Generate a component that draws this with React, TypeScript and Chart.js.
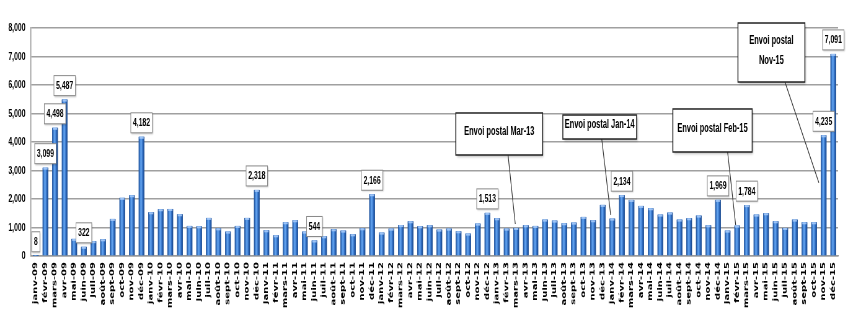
import React, { useEffect, useRef } from 'react';
import { Chart, registerables } from 'chart.js';

Chart.register(...registerables);

// ---- data ----
const MONTHS = ['janv', 'févr', 'mars', 'avr', 'mai', 'juin', 'juil', 'août', 'sept', 'oct', 'nov', 'déc'];
const YEARS = ['09', '10', '11', '12', '13', '14', '15'];
const CATEGORIES = YEARS.flatMap((y) => MONTHS.map((m) => `${m}-${y}`));

const VALUES_2009 = [8, 3099, 4498, 5487, 600, 322, 520, 585, 1300, 2040, 2130, 4182];
const VALUES_2010 = [1534, 1640, 1650, 1464, 1054, 1042, 1335, 970, 855, 1054, 1335, 2318];
const VALUES_2011 = [902, 726, 1183, 1253, 855, 544, 691, 937, 890, 761, 972, 2166];
const VALUES_2012 = [820, 960, 1085, 1218, 1042, 1077, 925, 960, 867, 785, 1136, 1513];
const VALUES_2013 = [1323, 960, 984, 1077, 1054, 1276, 1241, 1148, 1171, 1370, 1253, 1792];
const VALUES_2014 = [1311, 2134, 1967, 1756, 1674, 1452, 1522, 1276, 1323, 1417, 1077, 1969];
const VALUES_2015 = [890, 1066, 1784, 1452, 1499, 1218, 984, 1276, 1183, 1183, 4235, 7091];
const VALUES = [
  ...VALUES_2009, ...VALUES_2010, ...VALUES_2011, ...VALUES_2012,
  ...VALUES_2013, ...VALUES_2014, ...VALUES_2015,
];

// indices of bars that carry a value label
const LABELLED = [0, 1, 2, 3, 5, 11, 23, 29, 35, 47, 61, 71, 74, 82, 83];

const Y_TICKS = [0, 1000, 2000, 3000, 4000, 5000, 6000, 7000, 8000];

// callouts: box centre in (category index, value) space, leader line in same space
const CALLOUTS = [
  { lines: ['Envoi postal Mar-13'], boxIdx: 48.23, boxVal: 4281, w: 140, h: 42, fromIdx: 49.15, toIdx: 49.9, toVal: 1123 },
  { lines: ['Envoi postal Jan-14'], boxIdx: 58.69, boxVal: 4526, w: 119, h: 24, fromIdx: 58.9, toIdx: 59.83, toVal: 1439 },
  { lines: ['Envoi postal Feb-15'], boxIdx: 70.43, boxVal: 4404, w: 128, h: 43, fromIdx: 72.0, toIdx: 72.84, toVal: 1088 },
  { lines: ['Envoi postal', 'Nov-15'], boxIdx: 76.56, boxVal: 7140, w: 108, h: 59, fromIdx: 77.97, toIdx: 81.5, toVal: 2572 },
];

// ---- rendering ----
const DISPLAY_W = 848;
const DISPLAY_H = 326;
const CANVAS_W = 1368; // drawn wide, then squeezed horizontally like the reference
const SX = DISPLAY_W / CANVAS_W;

const FONT = "'Liberation Sans', Arial, sans-serif";

const annotPlugin = {
  id: 'annot',
  afterDatasetsDraw(chart: any) {
    const ctx: CanvasRenderingContext2D = chart.ctx;
    const meta = chart.getDatasetMeta(0);
    const xS = chart.scales.x;
    const yS = chart.scales.y;

    // bar shading (cylinder look)
    meta.data.forEach((bar: any) => {
      const { x, y, base, width } = bar.getProps(['x', 'y', 'base', 'width'], true);
      const l = x - width / 2;
      const g = ctx.createLinearGradient(l, 0, l + width, 0);
      g.addColorStop(0, '#1c4a8f');
      g.addColorStop(0.28, '#4a8ddf');
      g.addColorStop(0.45, '#67a6f0');
      g.addColorStop(0.72, '#2e6cc2');
      g.addColorStop(1, '#1a4584');
      ctx.save();
      ctx.fillStyle = g;
      ctx.fillRect(l, y, width, base - y);
      if (base - y > 3) {
        ctx.fillStyle = 'rgba(170,205,250,0.85)';
        ctx.fillRect(l + 1, y, width - 2, 2);
      }
      ctx.restore();
    });

    // callouts
    CALLOUTS.forEach((c) => {
      const cx = xS.getPixelForValue(c.boxIdx);
      const cy = yS.getPixelForValue(c.boxVal);
      const top = cy - c.h / 2;
      const bottom = cy + c.h / 2;
      ctx.save();
      ctx.strokeStyle = '#303030';
      ctx.lineWidth = 1.2;
      ctx.beginPath();
      ctx.moveTo(xS.getPixelForValue(c.fromIdx), bottom);
      ctx.lineTo(xS.getPixelForValue(c.toIdx), yS.getPixelForValue(c.toVal));
      ctx.stroke();

      ctx.shadowColor = 'rgba(0,0,0,0.35)';
      ctx.shadowOffsetX = 2;
      ctx.shadowOffsetY = 2;
      ctx.shadowBlur = 3;
      ctx.fillStyle = '#ffffff';
      ctx.fillRect(cx - c.w / 2, top, c.w, c.h);
      ctx.shadowColor = 'transparent';
      ctx.strokeStyle = '#222';
      ctx.lineWidth = 1.5;
      ctx.strokeRect(cx - c.w / 2, top, c.w, c.h);

      ctx.fillStyle = '#000';
      ctx.font = `bold 12px ${FONT}`;
      ctx.textAlign = 'center';
      ctx.textBaseline = 'middle';
      const lh = 20;
      const start = cy - ((c.lines.length - 1) * lh) / 2 - 2;
      c.lines.forEach((t, i) => ctx.fillText(t, cx, start + i * lh));
      ctx.restore();
    });

    // value labels
    LABELLED.forEach((i) => {
      const bar = meta.data[i];
      if (!bar) return;
      const { x, y } = bar.getProps(['x', 'y'], true);
      const txt = VALUES[i].toLocaleString('en-US');
      ctx.save();
      ctx.font = `bold 11px ${FONT}`;
      const tw = ctx.measureText(txt).width;
      const bw = tw + 7;
      const bh = 20;
      const by = y - 4 - bh;
      ctx.shadowColor = 'rgba(0,0,0,0.25)';
      ctx.shadowOffsetX = 1;
      ctx.shadowOffsetY = 1;
      ctx.shadowBlur = 2;
      ctx.fillStyle = '#fff';
      ctx.fillRect(x - bw / 2, by, bw, bh);
      ctx.shadowColor = 'transparent';
      ctx.strokeStyle = '#8a8a8a';
      ctx.lineWidth = 1;
      ctx.strokeRect(x - bw / 2, by, bw, bh);
      ctx.fillStyle = '#000';
      ctx.textAlign = 'center';
      ctx.textBaseline = 'middle';
      ctx.fillText(txt, x, by + bh / 2 + 0.5);
      ctx.restore();
    });
  },
};

export default function App() {
  const ref = useRef<HTMLCanvasElement>(null);

  useEffect(() => {
    document.body.style.margin = '0';
    if (!ref.current) return;
    const chart = new Chart(ref.current, {
      type: 'bar',
      data: {
        labels: CATEGORIES,
        datasets: [
          {
            data: VALUES,
            backgroundColor: '#2f6fc4',
            borderWidth: 0,
            barPercentage: 0.58,
            categoryPercentage: 1,
          },
        ],
      },
      options: {
        animation: false,
        responsive: true,
        maintainAspectRatio: false,
        devicePixelRatio: 1,
        layout: { padding: { left: 0, right: 16, top: 28, bottom: 0 } },
        plugins: { legend: { display: false }, tooltip: { enabled: false } },
        scales: {
          x: {
            grid: { display: false, drawTicks: false },
            border: { display: true, color: '#9a9a9a', width: 1.5 },
            ticks: {
              autoSkip: false,
              minRotation: 90,
              maxRotation: 90,
              padding: 6,
              color: '#000',
              font: { family: "'DejaVu Sans', Verdana, sans-serif", weight: 'bold', size: 10 },
            },
            afterFit: (s: any) => { s.height = 70; },
          },
          y: {
            min: 0,
            max: 8000,
            afterBuildTicks: (s: any) => { s.ticks = Y_TICKS.map((v) => ({ value: v })); },
            grid: { color: '#a0a0a0', lineWidth: 1.6, drawTicks: false },
            border: { display: true, color: '#9a9a9a', width: 1.5 },
            ticks: {
              padding: 9,
              color: '#000',
              font: { family: FONT, weight: 'bold', size: 11 },
              callback: (v: any) => Number(v).toLocaleString('en-US'),
            },
            afterFit: (s: any) => { s.width = 50; },
          },
        },
      },
      plugins: [annotPlugin],
    });
    return () => chart.destroy();
  }, []);

  return (
    <div style={{ width: DISPLAY_W, height: DISPLAY_H, overflow: 'hidden', background: '#fff' }}>
      <div
        style={{
          width: CANVAS_W,
          height: DISPLAY_H,
          transform: `scaleX(${SX})`,
          transformOrigin: '0 0',
        }}
      >
        <canvas ref={ref} />
      </div>
    </div>
  );
}
